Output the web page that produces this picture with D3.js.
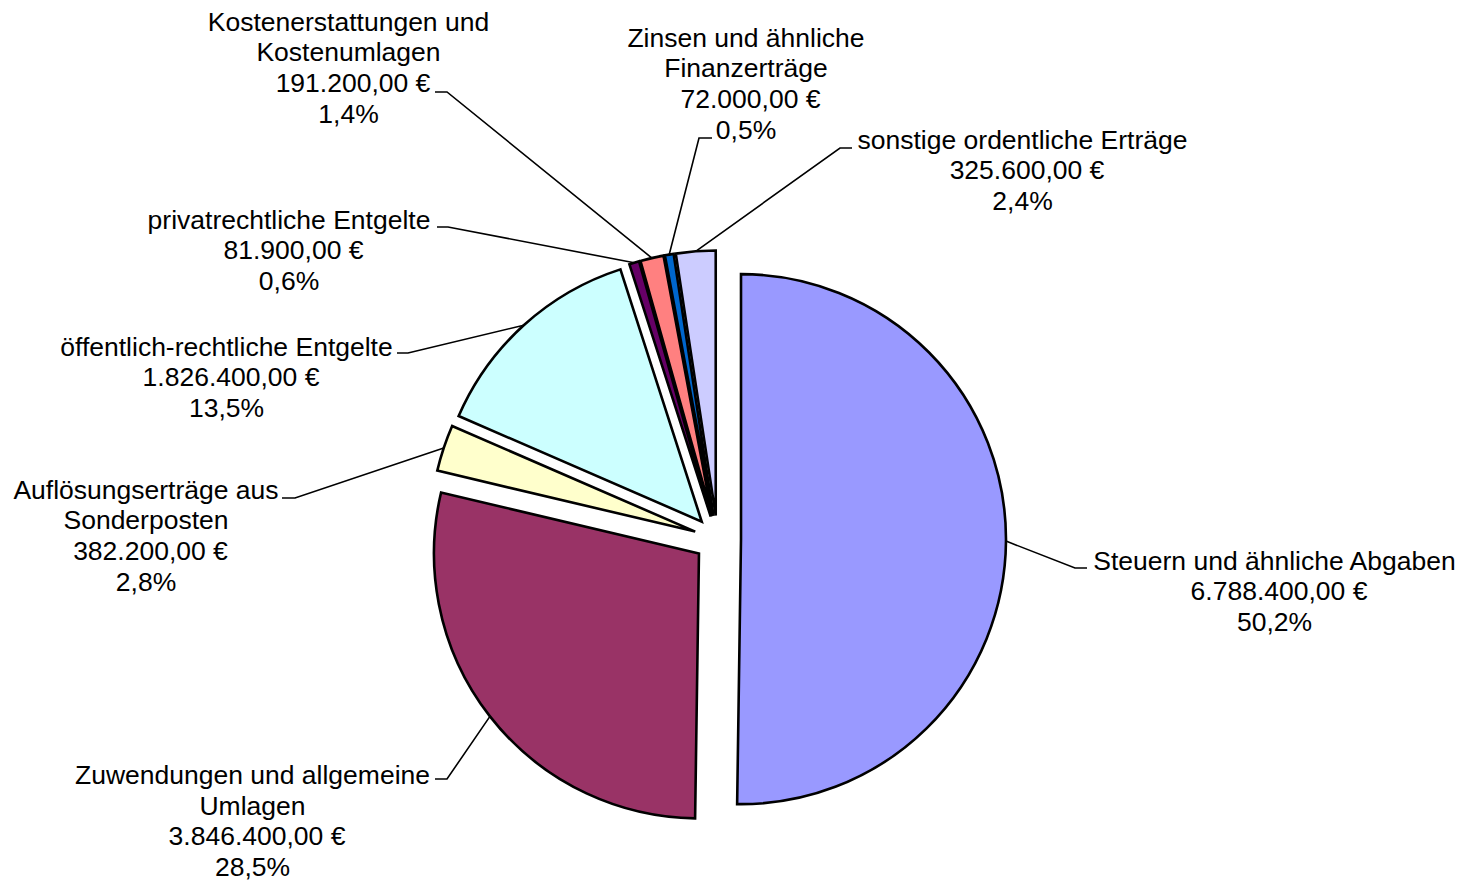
<!DOCTYPE html>
<html>
<head>
<meta charset="utf-8">
<script src="https://cdn.jsdelivr.net/npm/d3@7"></script>
<style>
  html, body { margin: 0; padding: 0; background: #fff; }
  svg { display: block; }
  text { font-family: "Liberation Sans", Arial, sans-serif; font-size: 26.5px; fill: #000; }
</style>
</head>
<body>
<svg id="chart" width="1464" height="883"></svg>
<script>
// ---- data ----
const categories = [
  ["Steuern und ähnliche Abgaben"],
  ["Zuwendungen und allgemeine", "Umlagen"],
  ["Auflösungserträge aus", "Sonderposten"],
  ["öffentlich-rechtliche Entgelte"],
  ["privatrechtliche Entgelte"],
  ["Kostenerstattungen und", "Kostenumlagen"],
  ["Zinsen und ähnliche", "Finanzerträge"],
  ["sonstige ordentliche Erträge"]
];
const values = [6788400, 3846400, 382200, 1826400, 81900, 191200, 72000, 325600];
const colors = ["#9999FF", "#993366", "#FFFFCC", "#CCFFFF", "#660066", "#FF8080", "#0066CC", "#CCCCFF"];

// ---- label layout (text centre x, first baseline y, leader elbow, leader end) ----
const labelX = [1274.5, 252.5, 146, 226.5, 289, 348.5, 746, 1022.5];
const labelY = [569.5, 784, 498.5, 355.5, 228.5, 30.5, 46.5, 148.5];
const elbow = [[1075, 568], [447, 779], [295, 498], [408, 353], [448, 227], [447, 92], [699, 138], [840, 148]];
const tickEnd = [[1087, 568], [435, 779], [282, 498], [397, 353], [437, 227], [435, 92], [712, 138], [852, 148]];

// ---- geometry ----
const cx = 717.5, cy = 539, radius = 265, explode = 23.5, lineH = 30.7;

const svg = d3.select("#chart");
const total = d3.sum(values);
const fmtLocale = d3.formatLocale({ decimal: ",", thousands: ".", grouping: [3], currency: ["", " €"] });
const fmtMoney = fmtLocale.format(",.2f");
const fmtPct = fmtLocale.format(".1f");

const pie = d3.pie().sort(null).value(d => d)(values);
const arc = d3.arc().innerRadius(0).outerRadius(radius);

const g = svg.append("g").attr("transform", `translate(${cx},${cy})`);

pie.forEach((p, i) => {
  const mid = (p.startAngle + p.endAngle) / 2;
  const dx = explode * Math.sin(mid), dy = -explode * Math.cos(mid);
  g.append("path")
    .attr("d", arc(p))
    .attr("transform", `translate(${dx},${dy})`)
    .attr("fill", colors[i])
    .attr("stroke", "#000")
    .attr("stroke-width", 2.6)
    .attr("stroke-linejoin", "miter");
});

// leader lines
pie.forEach((p, i) => {
  const mid = (p.startAngle + p.endAngle) / 2;
  const rr = explode + radius;
  const px = cx + rr * Math.sin(mid), py = cy - rr * Math.cos(mid);
  svg.append("path")
    .attr("d", d3.line()([[px, py], elbow[i], tickEnd[i]]))
    .attr("fill", "none")
    .attr("stroke", "#000")
    .attr("stroke-width", 1.6);
});

// labels
pie.forEach((p, i) => {
  const lines = categories[i].map(s => ({ t: s, dx: 0 }));
  lines.push({ t: fmtMoney(values[i]) + " €", dx: 4.5 });
  lines.push({ t: fmtPct(values[i] / total * 100) + "%", dx: 0 });
  const t = svg.append("text").attr("text-anchor", "middle");
  lines.forEach((l, k) => {
    t.append("tspan")
      .attr("x", labelX[i] + l.dx)
      .attr("y", labelY[i] + k * lineH)
      .text(l.t);
  });
});
</script>
</body>
</html>
